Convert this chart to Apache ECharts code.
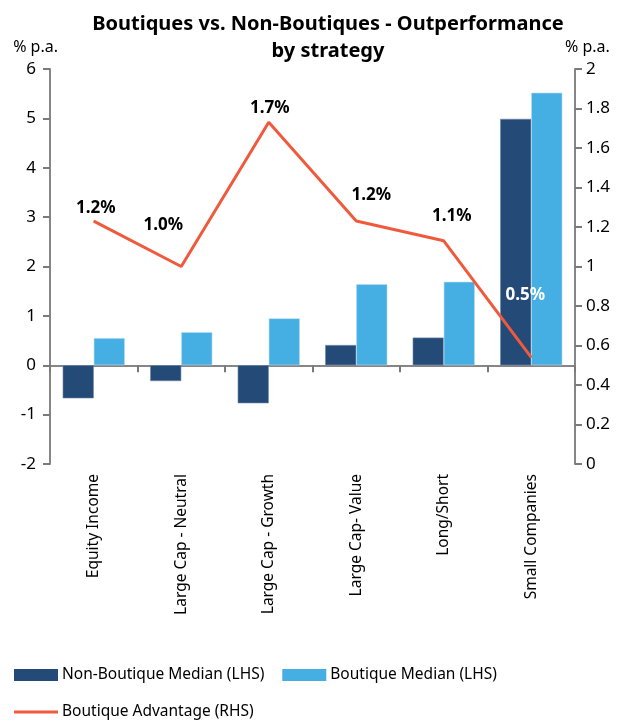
<!DOCTYPE html>
<html>
<head>
<meta charset="utf-8">
<script src="https://cdn.jsdelivr.net/npm/echarts@6/dist/echarts.min.js"></script>
<style>html,body{margin:0;padding:0;background:#fff}#c{width:625px;height:722px}</style>
</head>
<body>
<div id="c"></div>
<script>
const categories = ["Equity Income", "Large Cap - Neutral", "Large Cap - Growth", "Large Cap- Value", "Long/Short", "Small Companies"];
const nonBoutique = [-0.67, -0.32, -0.77, 0.41, 0.56, 4.99];
const boutique = [0.55, 0.67, 0.95, 1.64, 1.69, 5.52];
const advantage = [1.23, 1.0, 1.73, 1.23, 1.13, 0.54];
const advantageLabels = ["1.2%", "1.0%", "1.7%", "1.2%", "1.1%", "0.5%"];
const labelOffsets = [[2, 1], [-18, -27], [1, 0], [15, -12], [8, -11], [-6, -48]];
const labelColors = ["#000", "#000", "#000", "#000", "#000", "#fff"];

const FONT = '"Noto Sans", sans-serif';
const axisGray = '#868686';
const tickStyle = { show: true, inside: false, length: 7, lineStyle: { color: '#7a7a7a', width: 2, opacity: 1, type: 'solid' } };
const chart = echarts.init(document.getElementById('c'));
chart.setOption({
  animation: false,
  textStyle: { fontFamily: FONT },
  title: {
    text: 'Boutiques vs. Non-Boutiques - Outperformance\nby strategy',
    left: 323, textAlign: 'center', top: 6,
    textStyle: { fontFamily: FONT, fontSize: 20, fontWeight: 'bold', color: '#000', lineHeight: 27 }
  },
  grid: { left: 50, right: 50, top: 69, bottom: 258 },
  legend: [
    { left: 9, top: 662, itemWidth: 44, itemHeight: 12, itemGap: 18, icon: 'rect',
      itemStyle: { borderWidth: 0 },
      data: ['Non-Boutique Median (LHS)', 'Boutique Median (LHS)'],
      textStyle: { fontFamily: FONT, fontSize: 15.5, color: '#000', padding: [0, 0, 0, -1] } },
    { left: 9, top: 699, itemWidth: 44, itemHeight: 3, icon: 'rect',
      data: ['Boutique Advantage (RHS)'],
      textStyle: { fontFamily: FONT, fontSize: 15.5, color: '#000', padding: [0, 0, 0, -1] } }
  ],
  xAxis: [
    { type: 'category', data: categories, position: 'bottom', offset: -98.75,
      axisLine: { show: true, onZero: false, lineStyle: { color: axisGray, width: 2 } },
      axisTick: Object.assign({ interval: 0, alignWithLabel: false }, tickStyle),
      axisLabel: { show: true, interval: 0, color: 'rgba(0,0,0,0)', fontSize: 1, formatter: () => '.' } },
    { type: 'category', data: categories, position: 'bottom',
      axisLine: { show: false, onZero: false }, axisTick: { show: false },
      axisLabel: { interval: 0, rotate: 90, margin: 10, fontFamily: FONT, fontSize: 15.5, color: '#000' } }
  ],
  yAxis: [
    { type: 'value', min: -2, max: 6, interval: 1, name: '% p.a.', nameLocation: 'end', nameGap: 14,
      nameTextStyle: { fontFamily: FONT, fontSize: 16, color: '#000', align: 'right', padding: [0, -8, 0, 0] },
      axisLine: { show: true, onZero: false, lineStyle: { color: axisGray, width: 2 } },
      axisTick: tickStyle,
      splitLine: { show: false },
      axisLabel: { fontFamily: FONT, fontSize: 17, color: '#000', margin: 14 } },
    { type: 'value', min: 0, max: 2, interval: 0.2, name: '% p.a.', nameLocation: 'end', nameGap: 14,
      nameTextStyle: { fontFamily: FONT, fontSize: 16, color: '#000', align: 'left', padding: [0, 0, 0, -10] },
      axisLine: { show: true, onZero: false, lineStyle: { color: axisGray, width: 2 } },
      axisTick: tickStyle,
      splitLine: { show: false },
      axisLabel: { fontFamily: FONT, fontSize: 17, color: '#000', margin: 11 } }
  ],
  series: [
    { name: 'Non-Boutique Median (LHS)', type: 'bar', data: nonBoutique, barGap: '0%', barCategoryGap: '29%',
      itemStyle: { color: '#244A78', borderColor: '#6f88a8', borderWidth: 0.6 } },
    { name: 'Boutique Median (LHS)', type: 'bar', data: boutique,
      itemStyle: { color: '#45AEE2', borderColor: '#b5dcf2', borderWidth: 0.6 } },
    { name: 'Boutique Advantage (RHS)', type: 'line', yAxisIndex: 1, data: advantage.map((v, i) => ({
        value: v,
        label: { show: true, position: 'top', distance: 5, offset: labelOffsets[i], color: labelColors[i],
          formatter: advantageLabels[i], fontFamily: FONT, fontSize: 17, fontWeight: 'bold' }
      })),
      symbol: 'circle', symbolSize: 1, showSymbol: true,
      lineStyle: { color: '#F05A3C', width: 3 }, itemStyle: { color: '#F05A3C' }, z: 5 }
  ]
});
</script>
</body>
</html>
